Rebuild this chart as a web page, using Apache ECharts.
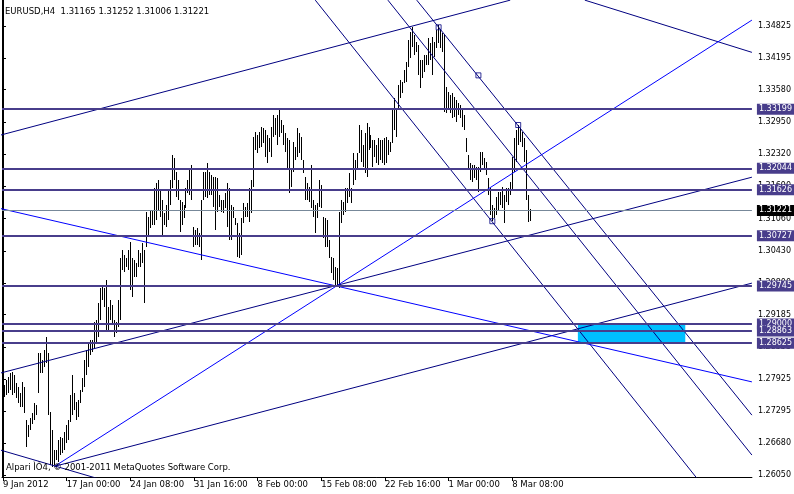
<!DOCTYPE html>
<html><head><meta charset="utf-8">
<script src="https://cdn.jsdelivr.net/npm/echarts@6/dist/echarts.min.js"></script>
<style>html,body{margin:0;padding:0;background:#fff}#c{width:794px;height:494px}</style>
</head><body><div id="c"></div>
<script>
// ---- data (EURUSD H4, one entry per bar) ----
const titleText = 'EURUSD,H4  1.31165 1.31252 1.31006 1.31221';
const copyrightText = 'Alpari ÌÒ4, © 2001-2011 MetaQuotes Software Corp.';
const xLabels = ['9 Jan 2012','17 Jan 00:00','24 Jan 08:00','31 Jan 16:00','8 Feb 00:00','15 Feb 08:00','22 Feb 16:00','1 Mar 00:00','8 Mar 08:00'];
const xLabelStep = 32;
const yTicks = [1.26050,1.26680,1.27295,1.27925,1.28555,1.29185,1.29800,1.30430,1.31060,1.31690,1.32320,1.32950,1.33580,1.34195,1.34825];
const highs = [
1.2767,1.2781,1.2791,1.2796,1.2804,1.2806,1.2800,1.2785,1.2777,1.2765,
1.2787,1.2777,1.2712,1.2702,1.2716,1.2726,1.2746,1.2742,1.2843,1.2843,
1.2830,1.2849,1.2875,1.2843,1.2728,1.2693,1.2654,1.2654,1.2673,1.2679,
1.2677,1.2689,1.2702,1.2712,1.2761,1.2800,1.2765,1.2748,1.2752,1.2771,
1.2794,1.2830,1.2849,1.2863,1.2869,1.2869,1.2904,1.2908,1.2941,1.2970,
1.2972,1.2970,1.2986,1.2933,1.2947,1.2937,1.2908,1.2904,1.2947,1.3029,
1.3045,1.3035,1.3029,1.3045,1.3060,1.3029,1.3025,1.3019,1.3045,1.3039,
1.3058,1.3045,1.3119,1.3109,1.3123,1.3123,1.3166,1.3175,1.3181,1.3162,
1.3142,1.3117,1.3133,1.3162,1.3181,1.3230,1.3225,1.3197,1.3181,1.3142,
1.3138,1.3133,1.3166,1.3181,1.3205,1.3211,1.3090,1.3084,1.3088,1.3078,
1.3142,1.3197,1.3197,1.3215,1.3197,1.3191,1.3187,1.3187,1.3185,1.3152,
1.3142,1.3142,1.3156,1.3175,1.3166,1.3133,1.3129,1.3107,1.3097,1.3078,
1.3107,1.3136,1.3129,1.3136,1.3166,1.3181,1.3265,1.3275,1.3269,1.3275,
1.3285,1.3283,1.3279,1.3269,1.3264,1.3285,1.3308,1.3303,1.3308,1.3318,
1.3299,1.3289,1.3273,1.3264,1.3260,1.3201,1.3256,1.3246,1.3283,1.3273,
1.3265,1.3221,1.3187,1.3175,1.3168,1.3211,1.3142,1.3133,1.3136,1.3181,
1.3171,1.3109,1.3107,1.3103,1.3064,1.3031,1.3029,1.3011,1.3009,1.3119,
1.3142,1.3138,1.3166,1.3166,1.3195,1.3166,1.3234,1.3221,1.3234,1.3289,
1.3279,1.3250,1.3273,1.3293,1.3285,1.3269,1.3260,1.3260,1.3250,1.3264,
1.3260,1.3260,1.3264,1.3265,1.3260,1.3256,1.3318,1.3342,1.3318,1.3367,
1.3377,1.3373,1.3396,1.3412,1.3455,1.3470,1.3480,1.3464,1.3451,1.3445,
1.3416,1.3416,1.3425,1.3425,1.3459,1.3449,1.3461,1.3451,1.3474,1.3484,
1.3474,1.3468,1.3464,1.3363,1.3353,1.3347,1.3351,1.3344,1.3338,1.3332,
1.3328,1.3322,1.3308,1.3264,1.3230,1.3215,1.3211,1.3211,1.3207,1.3207,
1.3236,1.3236,1.3224,1.3217,1.3185,1.3166,1.3133,1.3127,1.3148,1.3158,
1.3158,1.3168,1.3152,1.3166,1.3166,1.3177,1.3226,1.3264,1.3279,1.3289,
1.3283,1.3275,1.3264,1.3240,1.3152,1.31252];
const lows = [
1.2718,1.2757,1.2761,1.2765,1.2771,1.2761,1.2765,1.2755,1.2746,1.2738,
1.2738,1.2726,1.2659,1.2679,1.2693,1.2704,1.2712,1.2722,1.2765,1.2804,
1.2804,1.2816,1.2824,1.2722,1.2624,1.2620,1.2624,1.2634,1.2630,1.2644,
1.2648,1.2654,1.2667,1.2673,1.2708,1.2722,1.2732,1.2712,1.2718,1.2746,
1.2767,1.2777,1.2800,1.2816,1.2839,1.2845,1.2853,1.2865,1.2874,1.2908,
1.2947,1.2933,1.2888,1.2888,1.2908,1.2902,1.2874,1.2882,1.2894,1.2908,
1.3006,1.3002,1.3011,1.3006,1.2967,1.2953,1.2992,1.2992,1.3011,1.3011,
1.3019,1.2941,1.3051,1.3074,1.3088,1.3093,1.3093,1.3103,1.3123,1.3109,
1.3074,1.3093,1.3090,1.3103,1.3133,1.3166,1.3181,1.3148,1.3142,1.3080,
1.3093,1.3107,1.3127,1.3156,1.3152,1.3142,1.3051,1.3054,1.3054,1.3051,
1.3025,1.3142,1.3148,1.3146,1.3152,1.3152,1.3129,1.3084,1.3119,1.3129,
1.3119,1.3117,1.3127,1.3090,1.3064,1.3064,1.3107,1.3093,1.3031,1.3029,
1.3035,1.3097,1.3109,1.3109,1.3099,1.3117,1.3168,1.3240,1.3234,1.3244,
1.3246,1.3254,1.3226,1.3215,1.3236,1.3226,1.3265,1.3269,1.3250,1.3265,
1.3273,1.3250,1.3236,1.3205,1.3156,1.3168,1.3197,1.3221,1.3226,1.3234,
1.3221,1.3195,1.3142,1.3142,1.3138,1.3127,1.3109,1.3078,1.3107,1.3129,
1.3127,1.3068,1.3051,1.3051,1.3029,1.3000,1.2986,1.2976,1.2972,1.2970,
1.3097,1.3113,1.3119,1.3136,1.3148,1.3136,1.3171,1.3181,1.3205,1.3234,
1.3217,1.3207,1.3195,1.3187,1.3240,1.3244,1.3207,1.3226,1.3215,1.3211,
1.3221,1.3215,1.3211,1.3215,1.3230,1.3236,1.3254,1.3279,1.3265,1.3318,
1.3342,1.3351,1.3371,1.3373,1.3402,1.3420,1.3441,1.3425,1.3431,1.3386,
1.3361,1.3381,1.3392,1.3406,1.3406,1.3416,1.3386,1.3422,1.3439,1.3449,
1.3439,1.3431,1.3314,1.3312,1.3318,1.3312,1.3303,1.3305,1.3295,1.3308,
1.3303,1.3285,1.3279,1.3236,1.3201,1.3181,1.3177,1.3185,1.3181,1.3158,
1.3197,1.3211,1.3205,1.3191,1.3152,1.3113,1.3101,1.3107,1.3113,1.3123,
1.3133,1.3127,1.3097,1.3138,1.3133,1.3152,1.3162,1.3197,1.3217,1.3250,
1.3256,1.3246,1.3217,1.3142,1.3099,1.31006];
// horizontal price levels
const levels = [1.33199,1.32044,1.31626,1.30727,1.29745,1.29000,1.28863,1.28625];
const currentPrice = 1.31221;
// trend lines: [barFrom, priceFrom, barTo, priceTo]
const navyLines = [
  [-1.5,1.3269,255,1.3533],
  [-1.5,1.2804,376.5,1.3187],
  [26,1.2622,376.5,1.2980],
  [-1.5,1.2654,63.5,1.2580],
  [157,1.3533,353.5,1.2576],
  [193.5,1.3533,376.5,1.2644],
  [208,1.3533,376.5,1.2722],
  [292.5,1.3533,376.5,1.3431]
];
const blueLines = [
  [-1.5,1.3126,376.5,1.2787],
  [26,1.2622,376.5,1.3494]
];
const anchorPoints = [[219,1.3480],[239,1.3386],[259,1.3289],[246,1.3101]];
// rectangle zone: [barFrom, barTo, priceTop, priceBottom]
const zones = [[289,343,1.29000,1.28625]];

// ---- chart ----
const FONT = 'DejaVu Sans';
const FS = 8;
const FS_TITLE = 8.5;
const NAVY = '#000080', BLUE = '#0000FF', SLATE = '#483D8B';
const chart = echarts.init(document.getElementById('c'), null, {renderer:'canvas'});
const xTickVals = xLabels.map((_, k) => k * xLabelStep);

const lineSeries = [];
navyLines.forEach(l => lineSeries.push({type:'line', data:[[l[0],l[1]],[l[2],l[3]]], showSymbol:false, symbol:'none', clip:true, silent:true, z:4, lineStyle:{color:NAVY,width:1}}));
blueLines.forEach(l => lineSeries.push({type:'line', data:[[l[0],l[1]],[l[2],l[3]]], showSymbol:false, symbol:'none', clip:true, silent:true, z:4, lineStyle:{color:BLUE,width:1}}));

const lvlLabel = (bg) => ({show:true, position:'end', distance:5, formatter:p => Number(p.value).toFixed(5),
  color:'#fff', backgroundColor:bg, padding:[2,4,1,2], fontSize:FS, fontFamily:FONT});

chart.setOption({
  animation:false,
  backgroundColor:'#fff',
  title:[
    {text:titleText, left:5, top:7, padding:0, textStyle:{fontSize:FS_TITLE, fontWeight:'normal', color:'#000', fontFamily:FONT}},
    {text:copyrightText, left:6, top:463, padding:0, textStyle:{fontSize:FS_TITLE, fontWeight:'normal', color:'#000', fontFamily:FONT}}
  ],
  grid:{left:2, right:38, top:0, bottom:17, containLabel:false},
  xAxis:{type:'value', min:-0.5, max:376.5, splitLine:{show:false},
    axisLine:{show:true, onZero:false, lineStyle:{color:'#000', width:1}},
    axisTick:{show:true, customValues:xTickVals, length:4, lineStyle:{color:'#000'}},
    axisLabel:{show:true, customValues:xTickVals, formatter:v => xLabels[Math.round(v / xLabelStep)] || '', align:'left', margin:3,
      color:'#000', fontSize:FS_TITLE, fontFamily:FONT}},
  yAxis:[
    {type:'value', position:'right', min:1.26011, max:1.35333, scale:true, splitLine:{show:false},
      axisLine:{show:true, lineStyle:{color:'#000', width:1}},
      axisTick:{show:true, customValues:yTicks, length:3, lineStyle:{color:'#000'}},
      axisLabel:{show:true, customValues:yTicks, formatter:v => Number(v).toFixed(5), margin:6, color:'#000', fontSize:FS, fontFamily:FONT}},
    {type:'value', position:'left', min:1.26011, max:1.35333, splitLine:{show:false},
      axisLine:{show:true, lineStyle:{color:'#000', width:1}}, axisTick:{show:false}, axisLabel:{show:false}}
  ],
  series:[
    {type:'custom', z:1, silent:true, data:zones,
      renderItem:(params, api) => {
        const a = api.coord([api.value(0), api.value(2)]);
        const b = api.coord([api.value(1), api.value(3)]);
        return {type:'rect', shape:{x:a[0], y:a[1], width:b[0]-a[0], height:b[1]-a[1]}, style:{fill:'#00BFFF'}};
      }},
    {type:'custom', z:2, silent:true, data:highs.map((h, i) => [i, h, lows[i]]),
      renderItem:(params, api) => {
        const t = api.coord([api.value(0), api.value(1)]);
        const b = api.coord([api.value(0), api.value(2)]);
        return {type:'rect', shape:{x:Math.floor(t[0]), y:Math.round(t[1]), width:1, height:Math.max(1, Math.round(b[1]) - Math.round(t[1]))}, style:{fill:'#000'}};
      }},
    ...lineSeries,
    {type:'scatter', z:6, silent:true, data:anchorPoints, symbol:'rect', symbolSize:5,
      itemStyle:{color:'rgba(255,255,255,0)', borderColor:NAVY, borderWidth:1},
      markLine:{silent:true, symbol:['none','none'], animation:false, precision:5,
        data:[
          ...levels.map(v => ({yAxis:v, lineStyle:{color:SLATE, width:2, type:'solid'}, label:lvlLabel(SLATE)})),
          {yAxis:currentPrice, lineStyle:{color:'#778899', width:1, type:'solid'}, label:lvlLabel('#000')}
        ]}}
  ]
});
</script></body></html>
